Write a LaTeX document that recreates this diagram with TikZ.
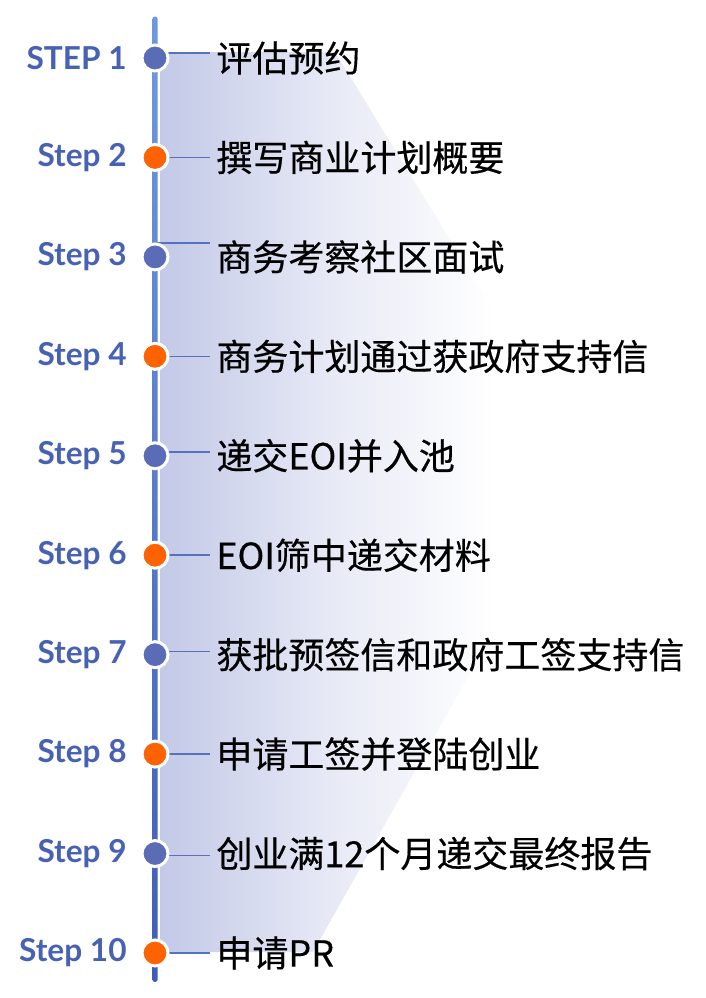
\documentclass[tikz,border=0pt]{standalone}
\usepackage{fontspec}
\setmainfont{Noto Sans CJK SC}
\newfontfamily\steptextfont[FakeBold=0.4]{Noto Sans CJK SC}
\newfontfamily\steplabelfont{Lato}
\usetikzlibrary{positioning}

\definecolor{bandleft}{HTML}{C3C9E7}
\definecolor{linetop}{HTML}{7098DE}
\definecolor{linebot}{HTML}{3F5DB5}
\definecolor{dotblue}{HTML}{5A6CB6}
\definecolor{dotorange}{HTML}{FF6200}
\definecolor{labelblue}{HTML}{4862B3}
\definecolor{connblue}{HTML}{5870C0}

\pgfdeclarehorizontalshading{bandfade}{100bp}{color(0bp)=(bandleft); color(25bp)=(bandleft); color(45bp)=(bandleft!40); color(64bp)=(white); color(100bp)=(white)}

\begin{document}
\begin{tikzpicture}[x=0.5pt, y=-0.5pt,
    stepdot/.style={circle, inner sep=0pt, minimum size=13pt, draw=white, line width=1.5pt},
    steplabel/.style={anchor=east, inner sep=0pt, text=labelblue, font=\steplabelfont\bfseries\fontsize{15.8pt}{15.8pt}\selectfont},
    steptext/.style={anchor=west, inner sep=0pt, font=\steptextfont\fontsize{18pt}{18pt}\selectfont},
    connector/.style={draw=connblue, line width=0.75pt}]
    \useasboundingbox (0,0) rectangle (706,998);

    % fading band behind the steps
    \shade[shading=bandfade] (160,52) -- (335,52) -- (588,464) -- (313,952) -- (160,952) -- cycle;

    \foreach \i/\lab/\txt/\off in {
        1/STEP 1/评估预约/2.5,
        2/Step 2/撰写商业计划概要/0,
        3/Step 3/商务考察社区面试/7,
        4/Step 4/商务计划通过获政府支持信/0,
        5/Step 5/递交EOI并入池/2,
        6/Step 6/EOI筛中递交材料/0,
        7/Step 7/获批预签信和政府工签支持信/1.5,
        8/Step 8/申请工签并登陆创业/0,
        9/Step 9/创业满12个月递交最终报告/-1,
        10/Step 10/申请PR/0}{
        \pgfmathsetmacro\yy{58+99.44*(\i-1)}
        \node[steplabel] (lab\i) at (127,\yy) {\lab};
        \node[steptext] (txt\i) at (216,\yy) {\txt};
        \coordinate (dot\i) at (155,\yy);
        \draw[connector] ([yshift=\off pt]dot\i) -- ([yshift=\off pt, xshift=-3pt]txt\i.west);
    }

    % timeline
    \shade[top color=linetop, bottom color=linebot, rounded corners=1.3pt] (152.3,16.5) rectangle (157.7,982);

    \foreach \i/\col in {1/dotblue,2/dotorange,3/dotblue,4/dotorange,5/dotblue,6/dotorange,7/dotblue,8/dotorange,9/dotblue,10/dotorange}
        \node[stepdot, fill=\col] at (dot\i) {};
\end{tikzpicture}
\end{document}
